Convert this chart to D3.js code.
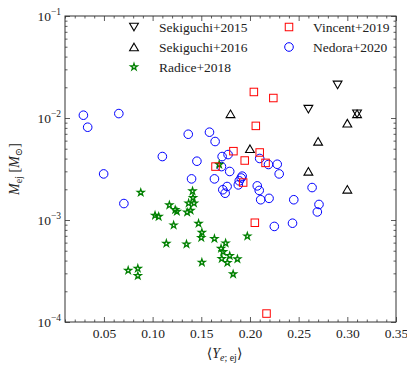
<!DOCTYPE html>
<html>
<head>
<meta charset="utf-8">
<script src="https://cdn.jsdelivr.net/npm/d3@7"></script>
<style>
  body { margin: 0; background: #fff; }
  text { font-family: "Liberation Serif", "DejaVu Serif", serif; fill: #222; }
</style>
</head>
<body>
<div id="chart"></div>
<script>
var svgWidth = 407;
var svgHeight = 373;

var margin = { top: 16, right: 11, bottom: 51, left: 65 };
var width = svgWidth - margin.left - margin.right;
var height = svgHeight - margin.top - margin.bottom;

// data: [Ye, Mej]
var sekiguchi2015 = [[0.29, 0.0211], [0.26, 0.0122], [0.31, 0.011]];
var sekiguchi2016 = [[0.18, 0.011], [0.20, 0.005], [0.31, 0.011], [0.30, 0.0089],
                     [0.27, 0.0059], [0.26, 0.003], [0.30, 0.002]];
var radice2018 = [[0.0878, 0.00186], [0.0749, 0.00032], [0.0848, 0.000335], [0.0848, 0.000284],
                  [0.1025, 0.00111], [0.1062, 0.00108], [0.1172, 0.0014], [0.1216, 0.00089],
                  [0.1141, 0.000589], [0.1232, 0.00126], [0.1249, 0.00121], [0.1348, 0.00058],
                  [0.1355, 0.00119], [0.137, 0.00146], [0.139, 0.00124], [0.141, 0.00192],
                  [0.1415, 0.00165], [0.1425, 0.00146], [0.1472, 0.000925], [0.1506, 0.000755],
                  [0.150, 0.00067], [0.1506, 0.000384], [0.1635, 0.000655], [0.1703, 0.000526],
                  [0.1724, 0.000488], [0.175, 0.000593], [0.171, 0.000417], [0.1792, 0.000446],
                  [0.1768, 0.000381], [0.1871, 0.000414], [0.1827, 0.000295], [0.1973, 0.000695],
                  [0.1684, 0.0035]];
var vincent2019 = [[0.204, 0.018], [0.224, 0.0157], [0.206, 0.00837], [0.183, 0.00473],
                   [0.210, 0.00459], [0.1946, 0.00383], [0.216, 0.00363], [0.1646, 0.00334],
                   [0.193, 0.00233], [0.205, 0.00094], [0.217, 0.000121]];
var nedora2020 = [[0.0289, 0.01065], [0.0333, 0.00812], [0.0653, 0.01105], [0.0497, 0.00283],
                  [0.0705, 0.00145], [0.110, 0.00419], [0.1366, 0.00693], [0.1455, 0.00377],
                  [0.140, 0.00253], [0.1584, 0.00726], [0.1642, 0.00588], [0.1635, 0.00253],
                  [0.1714, 0.00419], [0.1775, 0.00438], [0.1707, 0.00334], [0.1792, 0.00299],
                  [0.1721, 0.00198], [0.1745, 0.00183], [0.1765, 0.00213], [0.188, 0.00221],
                  [0.189, 0.00242], [0.191, 0.00258], [0.192, 0.00269], [0.210, 0.00401],
                  [0.2075, 0.00216], [0.2095, 0.00195], [0.211, 0.00158], [0.219, 0.0035],
                  [0.228, 0.00352], [0.230, 0.00283], [0.2196, 0.00163], [0.225, 0.000865],
                  [0.2437, 0.00093], [0.245, 0.00158], [0.2638, 0.00208], [0.2709, 0.00142],
                  [0.2692, 0.0012]];

var xMajor = [0.05, 0.10, 0.15, 0.20, 0.25, 0.30, 0.35];
var yMajor = [1e-4, 1e-3, 1e-2, 1e-1];
var yExp = ["\u22124", "\u22123", "\u22122", "\u22121"];

var svg = d3.select("#chart")
  .append("svg")
  .attr("width", svgWidth)
  .attr("height", svgHeight);

var chartGroup = svg.append("g")
  .attr("transform", `translate(${margin.left}, ${margin.top})`);

var x = d3.scaleLinear().domain([0.01, 0.35]).range([0, width]);
var y = d3.scaleLog().domain([1e-4, 1e-1]).range([height, 0]);

// minor ticks
var xMinor = d3.range(1, 36).map(d => d / 100).filter(d => Math.round(d * 100) % 5 !== 0);
var yMinor = [];
[1e-4, 1e-3, 1e-2].forEach(function(b) {
  for (var k = 2; k <= 9; k++) yMinor.push(b * k);
});

var axisColor = "#333";

function styleAxis(g) {
  g.select(".domain").remove();
  g.selectAll("line").attr("stroke", axisColor).attr("stroke-width", 0.8);
}

// bottom / top
chartGroup.append("g").attr("transform", `translate(0,${height})`)
  .call(d3.axisBottom(x).tickValues(xMajor).tickSize(-5).tickPadding(6).tickFormat(d3.format(".2f")))
  .call(styleAxis)
  .selectAll("text").style("font-size", "13.5px").style("font-family", "Liberation Serif").attr("fill", "#222");
chartGroup.append("g").attr("transform", `translate(0,${height})`)
  .call(d3.axisBottom(x).tickValues(xMinor).tickSize(-2.5).tickFormat(""))
  .call(styleAxis);
chartGroup.append("g")
  .call(d3.axisTop(x).tickValues(xMajor).tickSize(-5).tickFormat(""))
  .call(styleAxis);
chartGroup.append("g")
  .call(d3.axisTop(x).tickValues(xMinor).tickSize(-2.5).tickFormat(""))
  .call(styleAxis);

// left / right
chartGroup.append("g")
  .call(d3.axisLeft(y).tickValues(yMajor).tickSize(-5).tickFormat(""))
  .call(styleAxis);
chartGroup.append("g")
  .call(d3.axisLeft(y).tickValues(yMinor).tickSize(-2.5).tickFormat(""))
  .call(styleAxis);
chartGroup.append("g").attr("transform", `translate(${width},0)`)
  .call(d3.axisRight(y).tickValues(yMajor).tickSize(-5).tickFormat(""))
  .call(styleAxis);
chartGroup.append("g").attr("transform", `translate(${width},0)`)
  .call(d3.axisRight(y).tickValues(yMinor).tickSize(-2.5).tickFormat(""))
  .call(styleAxis);

// y tick labels 10^n
yMajor.forEach(function(v, i) {
  var t = chartGroup.append("text")
    .attr("x", -4)
    .attr("y", y(v) + 5)
    .attr("text-anchor", "end")
    .style("font-size", "13.5px");
  t.append("tspan").text("10");
  t.append("tspan").attr("dy", -6).style("font-size", "9.5px").text(yExp[i]);
});

// frame
chartGroup.append("rect")
  .attr("width", width).attr("height", height)
  .attr("fill", "none").attr("stroke", axisColor).attr("stroke-width", 1);

// markers (triangles centred on their bounding box, like matplotlib)
var starPath = d3.symbol().type(d3.symbolStar).size(14)();
var triUp = "M0,-3.8L4.4,3.8L-4.4,3.8Z";
var triDown = "M0,3.8L4.4,-3.8L-4.4,-3.8Z";
var sqSide = 7.5;

chartGroup.selectAll(".nedora").data(nedora2020).enter().append("circle")
  .attr("cx", d => x(d[0])).attr("cy", d => y(d[1])).attr("r", 4.3)
  .attr("fill", "none").attr("stroke", "#0000ff").attr("stroke-width", 1);

chartGroup.selectAll(".radice").data(radice2018).enter().append("path")
  .attr("d", starPath)
  .attr("transform", d => `translate(${x(d[0])},${y(d[1])})`)
  .attr("fill", "none").attr("stroke", "#008000").attr("stroke-width", 1.3);

chartGroup.selectAll(".vincent").data(vincent2019).enter().append("rect")
  .attr("x", d => x(d[0]) - sqSide / 2).attr("y", d => y(d[1]) - sqSide / 2)
  .attr("width", sqSide).attr("height", sqSide)
  .attr("fill", "none").attr("stroke", "#ff0000").attr("stroke-width", 1);

chartGroup.selectAll(".sek16").data(sekiguchi2016).enter().append("path")
  .attr("d", triUp)
  .attr("transform", d => `translate(${x(d[0])},${y(d[1])})`)
  .attr("fill", "none").attr("stroke", "#000").attr("stroke-width", 1.1);

chartGroup.selectAll(".sek15").data(sekiguchi2015).enter().append("path")
  .attr("d", triDown)
  .attr("transform", d => `translate(${x(d[0])},${y(d[1])})`)
  .attr("fill", "none").attr("stroke", "#000").attr("stroke-width", 1.1);

// legend
var legend = svg.append("g");
var legendItems = [
  { label: "Sekiguchi+2015", kind: "down", col: 0, row: 0 },
  { label: "Sekiguchi+2016", kind: "up", col: 0, row: 1 },
  { label: "Radice+2018", kind: "star", col: 0, row: 2 },
  { label: "Vincent+2019", kind: "square", col: 1, row: 0 },
  { label: "Nedora+2020", kind: "circle", col: 1, row: 1 }
];
legendItems.forEach(function(it) {
  var mx = it.col === 0 ? 134 : 289;
  var tx = it.col === 0 ? 159 : 313;
  var my = 27 + it.row * 20;
  if (it.kind === "down" || it.kind === "up") {
    legend.append("path").attr("d", it.kind === "down" ? triDown : triUp)
      .attr("transform", `translate(${mx},${my})`)
      .attr("fill", "none").attr("stroke", "#000").attr("stroke-width", 1.1);
  } else if (it.kind === "star") {
    legend.append("path").attr("d", starPath)
      .attr("transform", `translate(${mx},${my})`)
      .attr("fill", "none").attr("stroke", "#008000").attr("stroke-width", 1.3);
  } else if (it.kind === "square") {
    legend.append("rect").attr("x", mx - sqSide / 2).attr("y", my - sqSide / 2)
      .attr("width", sqSide).attr("height", sqSide)
      .attr("fill", "none").attr("stroke", "#ff0000");
  } else {
    legend.append("circle").attr("cx", mx).attr("cy", my).attr("r", 4.3)
      .attr("fill", "none").attr("stroke", "#0000ff");
  }
  legend.append("text").attr("x", tx).attr("y", my + 5)
    .style("font-size", "13.5px").text(it.label);
});

// axis labels
var xl = svg.append("text")
  .attr("x", margin.left + width / 2 - 6)
  .attr("y", 358)
  .attr("text-anchor", "middle")
  .style("font-size", "14px");
xl.append("tspan").text("\u27E8");
xl.append("tspan").style("font-style", "italic").text("Y");
xl.append("tspan").attr("dy", 3).style("font-size", "10px").style("font-style", "italic").text("e");
xl.append("tspan").style("font-size", "10px").text("; ej");
xl.append("tspan").attr("dy", -3).text("\u27E9");

var yl = svg.append("text")
  .attr("transform", `translate(19, ${margin.top + height / 2}) rotate(-90)`)
  .attr("text-anchor", "middle")
  .style("font-size", "14px");
yl.append("tspan").style("font-style", "italic").text("M");
yl.append("tspan").attr("dy", 3).style("font-size", "10px").text("ej");
yl.append("tspan").attr("dy", -3).text(" [");
yl.append("tspan").style("font-style", "italic").text("M");
yl.append("tspan").attr("dy", 3).style("font-size", "10px").text("\u2299");
yl.append("tspan").attr("dy", -3).text("]");
</script>
</body>
</html>
